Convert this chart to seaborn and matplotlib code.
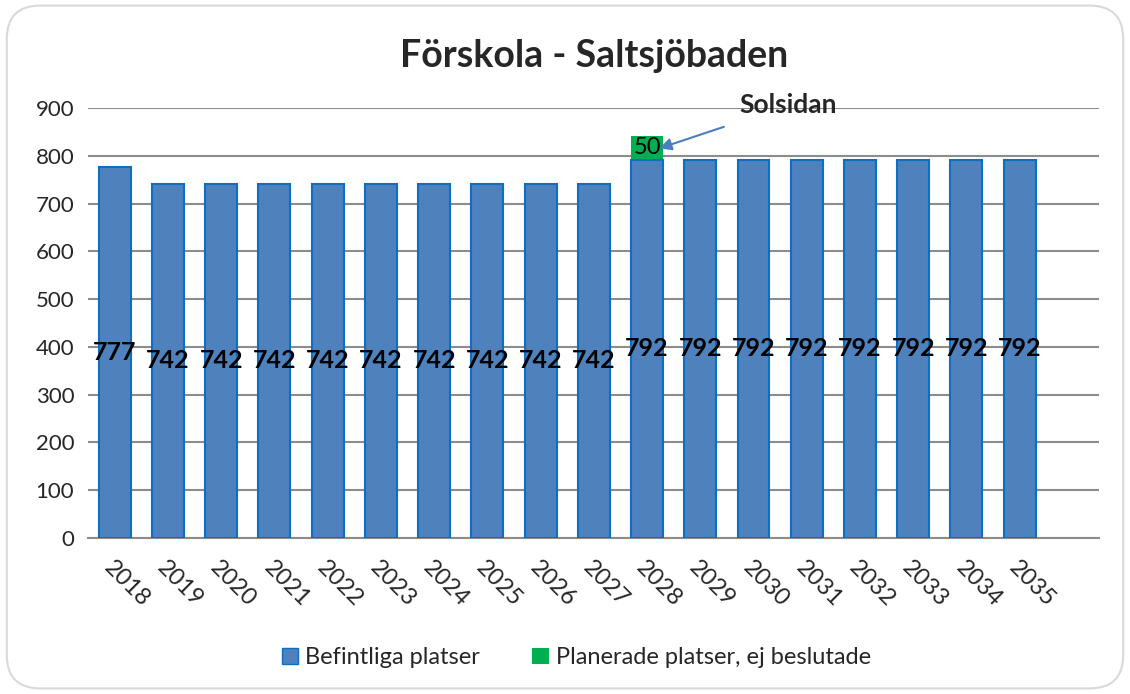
import matplotlib
matplotlib.use("Agg")
import matplotlib.pyplot as plt
import seaborn as sns
import pandas as pd
from matplotlib.patches import Patch, FancyBboxPatch

years = [str(y) for y in range(2018, 2036)]
befintliga = [777, 742, 742, 742, 742, 742, 742, 742, 742, 742,
              792, 792, 792, 792, 792, 792, 792, 792]
planerade = [0, 0, 0, 0, 0, 0, 0, 0, 0, 0,
             50, 0, 0, 0, 0, 0, 0, 0]

blue = "#4F81BD"
blue_edge = "#0A70C4"
green = "#00B050"

df = pd.DataFrame({"year": years, "bef": befintliga, "plan": planerade})
df["total"] = df["bef"] + df["plan"]

sns.set_style("white")
plt.rcParams["font.family"] = ["Lato", "DejaVu Sans"]

fig = plt.figure(figsize=(11.3, 6.94), dpi=100)
ax = fig.add_axes([0.078, 0.225, 0.895, 0.619])

# outer rounded frame
frame = FancyBboxPatch((0.006, 0.008), 0.988, 0.984, boxstyle="round,pad=0,rounding_size=0.03",
                       transform=fig.transFigure, facecolor="white", edgecolor="#D9D9D9",
                       linewidth=1.5, zorder=-10, mutation_aspect=1.6)
fig.patches.append(frame)

# stacked: total in green, existing drawn over it in blue
sns.barplot(data=df, x="year", y="total", color=green, width=0.6, saturation=1,
            edgecolor="none", ax=ax, zorder=2)
sns.barplot(data=df, x="year", y="bef", color=blue, width=0.6, saturation=1,
            edgecolor=blue_edge, linewidth=1.5, ax=ax, zorder=3)

ax.bar_label(ax.containers[1], label_type="center", fontsize=18, fontweight="bold", color="black")
for i, (b, p) in enumerate(zip(befintliga, planerade)):
    if p > 0:
        ax.text(i, b + p / 2, str(p), ha="center", va="center", fontsize=17, color="black", zorder=5)

ax.set_xlim(-0.5, len(years) + 0.5)
ax.set_ylim(0, 900)
ax.set_yticks(range(0, 1000, 100))
ax.yaxis.grid(True, color="#8C8C8C", linewidth=1.5, zorder=0)
ax.set_axisbelow(True)
for s in ["top", "right", "left"]:
    ax.spines[s].set_visible(False)
ax.spines["bottom"].set_color("#8C8C8C")
ax.spines["bottom"].set_linewidth(1.5)
ax.tick_params(axis="y", length=0, labelsize=16, pad=10)
ax.tick_params(axis="x", length=0, labelsize=17, pad=14)
ax.set_xlabel("")
ax.set_ylabel("")
plt.setp(ax.get_xticklabels(), rotation=-45, ha="left", va="top", rotation_mode="anchor")

ax.set_title("Förskola - Saltsjöbaden", fontsize=27, fontweight="bold", pad=30)

ax.annotate("Solsidan", xy=(10.23, 816), xytext=(12.65, 906), fontsize=19, fontweight="bold",
            ha="center", va="center",
            arrowprops=dict(arrowstyle="-|>", color="#4A7EC0", lw=1.5, shrinkA=14, shrinkB=0,
                            mutation_scale=18))

handles = [Patch(facecolor=blue, edgecolor=blue_edge, label="Befintliga platser"),
           Patch(facecolor=green, edgecolor="none", label="Planerade platser, ej beslutade")]
fig.legend(handles=handles, loc="center", bbox_to_anchor=(0.51, 0.052), ncol=2, frameon=False,
           fontsize=17, handlelength=0.7, handleheight=0.7, columnspacing=2.2, handletextpad=0.3)

fig.savefig("out.png", dpi=100)
